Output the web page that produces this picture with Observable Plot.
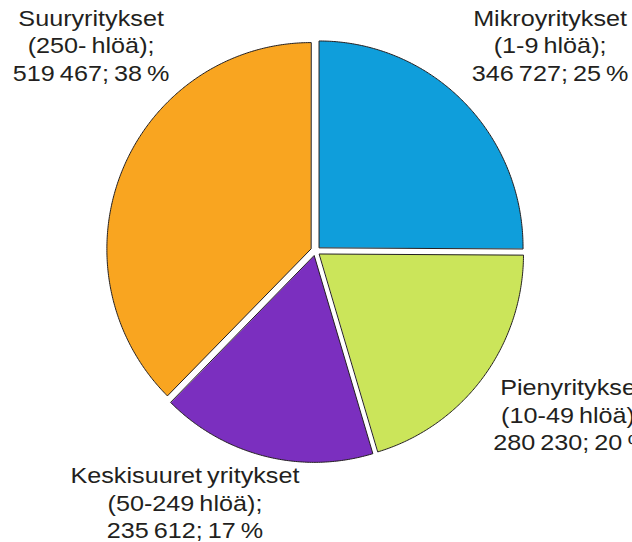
<!DOCTYPE html>
<html>
<head>
<meta charset="utf-8">
<script src="https://cdn.jsdelivr.net/npm/d3@7"></script>
<script src="https://cdn.jsdelivr.net/npm/@observablehq/plot@0.6"></script>
<style>
  html, body { margin: 0; padding: 0; background: #fff; }
  #chart svg { display: block; }
</style>
</head>
<body>
<div id="chart"></div>
<script>
// ---- data ----
const categories = ["Mikroyritykset", "Pienyritykset", "Keskisuuret\u2009yritykset", "Suuryritykset"];
const sizeBands = ["(1-9\u2009hlöä);", "(10-49\u2009hlöä);", "(50-249\u2009hlöä);", "(250-\u2009hlöä);"];
const values = [346727, 280230, 235612, 519467];
const percents = [25, 20, 17, 38];
const valueLabels = ["346\u2009727;\u200925\u2009%", "280\u2009230;\u200920\u2009%", "235\u2009612;\u200917\u2009%", "519\u2009467;\u200938\u2009%"];
const colors = ["#0f9edb", "#cbe55a", "#7b2fbf", "#f9a520"];

// label anchor positions (layout, in pie-radius units, y up)
const labelX = [1.15, 1.255, -0.64, -1.10];
const labelY = [1.0, -0.79, -1.215, 1.0];

// ---- layout ----
const W = 632, H = 542;
const cx = 315, cy = 250.5, Rx = 204, Ry = 206.5;
const explodePx = 5;

const pie = d3.pie().sort(null).startAngle(0).endAngle(2 * Math.PI);
const arcs = pie(values);

const marks = [];
arcs.forEach((a, i) => {
  const mid = (a.startAngle + a.endAngle) / 2;
  const ox = explodePx / Rx * Math.sin(mid), oy = explodePx / Ry * Math.cos(mid);
  const pts = [{x: ox, y: oy}];
  const n = Math.max(2, Math.ceil((a.endAngle - a.startAngle) / (Math.PI / 360)));
  for (let k = 0; k <= n; k++) {
    const t = a.startAngle + (a.endAngle - a.startAngle) * k / n;
    pts.push({x: ox + Math.sin(t), y: oy + Math.cos(t)});
  }
  marks.push(Plot.line(pts, {
    x: "x", y: "y", curve: "linear-closed",
    fill: colors[i], stroke: "#231f20", strokeWidth: 1, strokeLinejoin: "miter"
  }));
});

const labels = categories.map((c, i) => ({
  text: `${c}\n${sizeBands[i]}\n${valueLabels[i]}`,
  x: labelX[i], y: labelY[i]
}));
marks.push(Plot.text(labels, {
  x: "x", y: "y", text: "text",
  fontSize: 22.5, lineHeight: 1.22, fill: "#231f20",
  textAnchor: "middle", lineAnchor: "middle",
  className: "pie-label"
}));

const chart = Plot.plot({
  width: W, height: H,
  margin: 0,
  style: {fontFamily: "'Liberation Sans', Arial, sans-serif", background: "#fff"},
  x: {domain: [-cx / Rx, (W - cx) / Rx], axis: null},
  y: {domain: [-(H - cy) / Ry, cy / Ry], axis: null},
  marks
});
// slightly wide lettering, as in the reference
chart.querySelectorAll(".pie-label text").forEach(t => {
  const tr = t.getAttribute("transform") || "";
  t.setAttribute("transform", tr + " scale(1.12,1)");
});
document.getElementById("chart").appendChild(chart);
</script>
</body>
</html>
